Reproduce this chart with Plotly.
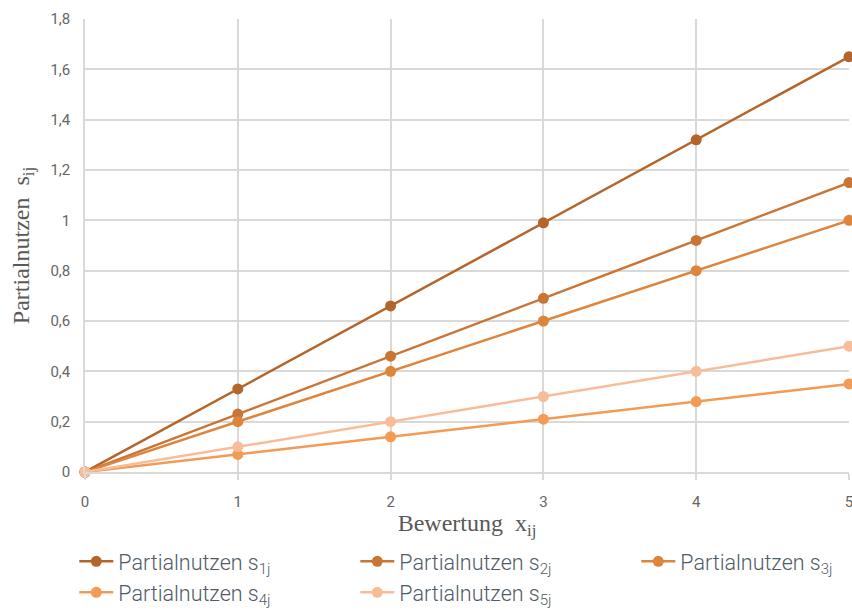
import plotly.graph_objects as go

# Bewertungsstufen x_ij
bewertung = [0, 1, 2, 3, 4, 5]

# Partialnutzen je Kriterium
s1 = [0, 0.33, 0.66, 0.99, 1.32, 1.65]
s2 = [0, 0.23, 0.46, 0.69, 0.92, 1.15]
s3 = [0, 0.20, 0.40, 0.60, 0.80, 1.00]
s4 = [0, 0.07, 0.14, 0.21, 0.28, 0.35]
s5 = [0, 0.10, 0.20, 0.30, 0.40, 0.50]

series_names = [
    "Partialnutzen s<sub>1j</sub>",
    "Partialnutzen s<sub>2j</sub>",
    "Partialnutzen s<sub>3j</sub>",
    "Partialnutzen s<sub>4j</sub>",
    "Partialnutzen s<sub>5j</sub>",
]
series_values = [s1, s2, s3, s4, s5]
series_colors = ["#B4652B", "#C97536", "#DE853D", "#F39A55", "#F8BC98"]

y_tickvals = [0, 0.2, 0.4, 0.6, 0.8, 1.0, 1.2, 1.4, 1.6, 1.8]
y_ticktext = ["0", "0,2", "0,4", "0,6", "0,8", "1", "1,2", "1,4", "1,6", "1,8"]
x_tickvals = [0, 1, 2, 3, 4, 5]

fig = go.Figure()
for name, vals, col in zip(series_names, series_values, series_colors):
    fig.add_trace(go.Scatter(
        x=bewertung, y=vals, name=name, mode="lines+markers",
        line=dict(color=col, width=2.5),
        marker=dict(color=col, size=11),
        cliponaxis=False,
    ))

tick_font = dict(family="Roboto", size=15, color="#666666")
title_font = dict(family="Liberation Serif", size=24, color="#595959")

fig.update_layout(
    width=852, height=611,
    margin=dict(l=85, r=3, t=19, b=139, autoexpand=False),
    paper_bgcolor="white", plot_bgcolor="white",
    showlegend=True,
    legend=dict(
        orientation="h", x=-0.014, xanchor="left", y=-0.152, yanchor="top",
        entrywidth=232, entrywidthmode="pixels",
        font=dict(family="Roboto", size=21.5, color="#4F5B66", weight=300),
        tracegroupgap=0, itemwidth=34,
    ),
    xaxis=dict(
        range=[0, 5], tickvals=x_tickvals,
        showgrid=True, gridcolor="#D9D9D9", gridwidth=1.5,
        zeroline=False, showline=True, linecolor="#D9D9D9", linewidth=1.5,
        ticks="outside", ticklen=6, tickcolor="#D9D9D9", tickwidth=1.5,
        tickfont=tick_font, ticklabelstandoff=9, ticklabeloverflow="allow",
        title=dict(text="Bewertung  x<sub>ij</sub>", font=title_font, standoff=4),
    ),
    yaxis=dict(
        range=[0, 1.8], tickvals=y_tickvals, ticktext=y_ticktext,
        showgrid=True, gridcolor="#D9D9D9", gridwidth=1.5,
        zeroline=False, showline=True, linecolor="#D9D9D9", linewidth=1.5,
        ticks="", tickfont=tick_font, ticklabelstandoff=10,
        title=dict(text="Partialnutzen  s<sub>ij</sub>", font=title_font, standoff=14),
    ),
)

fig.write_html("out.html")
